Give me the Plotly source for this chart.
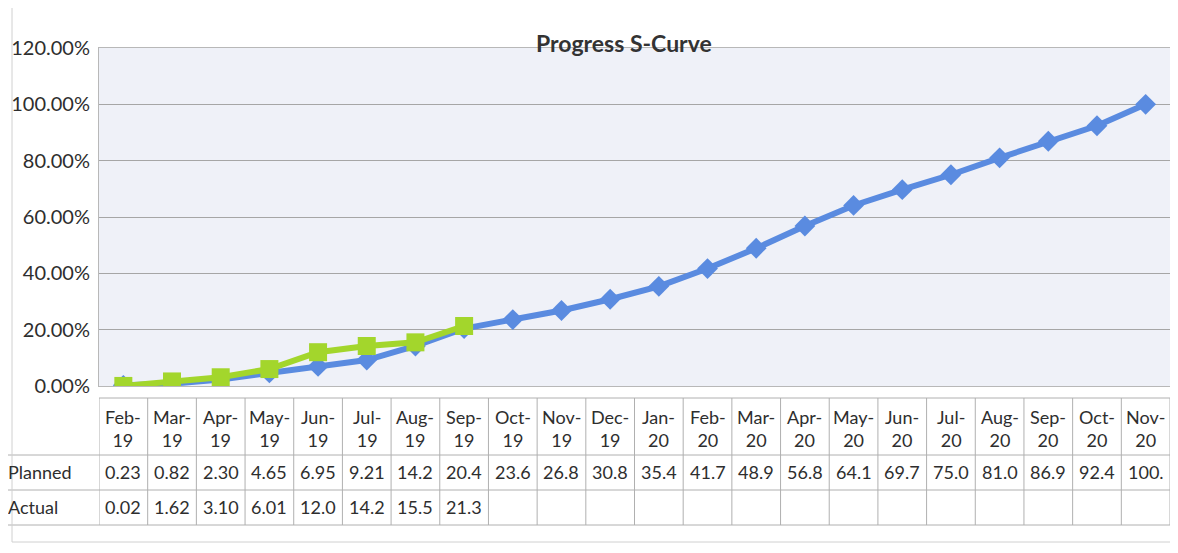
import plotly.graph_objects as go

months = ["Feb-19", "Mar-19", "Apr-19", "May-19", "Jun-19", "Jul-19", "Aug-19", "Sep-19",
          "Oct-19", "Nov-19", "Dec-19", "Jan-20", "Feb-20", "Mar-20", "Apr-20", "May-20",
          "Jun-20", "Jul-20", "Aug-20", "Sep-20", "Oct-20", "Nov-20"]
planned = [0.23, 0.82, 2.30, 4.65, 6.95, 9.21, 14.2, 20.4, 23.6, 26.8, 30.8, 35.4,
           41.7, 48.9, 56.8, 64.1, 69.7, 75.0, 81.0, 86.9, 92.4, 100.0]
actual = [0.02, 1.62, 3.10, 6.01, 12.0, 14.2, 15.5, 21.3]
y_ticks = [0, 20, 40, 60, 80, 100, 120]

OFF = 8  # page body margin
W, H = 1170, 545
ML, MR, MT, MB = 91, 8, 40, 167
PH = H - MT - MB
PW = W - ML - MR


def py(Y):  # Y in page pixels
    return (H - MB - (Y - OFF)) / PH


def px(X):  # X in page pixels
    return (X - OFF - ML) / PW


FONT = "Lato, 'Open Sans', sans-serif"
TXT = "#2e2e2e"
GRID = "#a6a6a6"
TLINE = "#b0b0b0"

fig = go.Figure()
fig.add_trace(go.Scatter(
    x=months, y=planned, mode="lines+markers", name="Planned",
    line=dict(color="#5a8be0", width=6),
    marker=dict(symbol="diamond", size=16, color="#5a8be0"),
))
fig.add_trace(go.Scatter(
    x=months[:len(actual)], y=actual, mode="lines+markers", name="Actual",
    line=dict(color="#a3d62c", width=6),
    marker=dict(symbol="square", size=18, color="#a3d62c"),
))

shapes = []
T_TOP, T_HDR, T_PLN, T_ACT = 398, 455, 490, 525
n = len(months)
shapes.append(dict(type="line", xref="x", yref="paper", x0=-0.5, x1=n - 0.5,
                   y0=py(T_TOP), y1=py(T_TOP), line=dict(color=TLINE, width=1)))
for Y in (T_HDR, T_PLN, T_ACT):
    shapes.append(dict(type="line", xref="paper", yref="paper", x0=px(2), x1=1.0,
                       y0=py(Y), y1=py(Y), line=dict(color=TLINE, width=1)))
for i in range(n + 1):
    shapes.append(dict(type="line", xref="x", yref="paper", x0=i - 0.5, x1=i - 0.5,
                       y0=py(T_TOP), y1=py(T_ACT), line=dict(color=TLINE, width=1)))
shapes.append(dict(type="line", xref="paper", yref="paper", x0=px(12), x1=px(12),
                   y0=py(5), y1=py(542), line=dict(color="#d0d0d0", width=1)))
shapes.append(dict(type="line", xref="paper", yref="paper", x0=px(12), x1=px(1178),
                   y0=py(5), y1=py(5), line=dict(color="#e2e2e2", width=1)))
shapes.append(dict(type="line", xref="paper", yref="paper", x0=px(12), x1=px(1178),
                   y0=py(542), y1=py(542), line=dict(color="#d0d0d0", width=1)))

FS = 18
annotations = []
for i, m in enumerate(months):
    mon, yr = m.split("-")
    annotations.append(dict(x=m, xref="x", y=py((T_TOP + T_HDR) / 2 + 2), yref="paper",
                            text=f"{mon}-<br>{yr}", showarrow=False,
                            font=dict(family=FONT, size=FS, color=TXT),
                            xanchor="center", yanchor="middle"))
    annotations.append(dict(x=m, xref="x", y=py((T_HDR + T_PLN) / 2 - 1), yref="paper",
                            text=f"{planned[i]:.2f}"[:4], showarrow=False,
                            font=dict(family=FONT, size=FS, color=TXT),
                            xanchor="center", yanchor="middle"))
for i, v in enumerate(actual):
    annotations.append(dict(x=months[i], xref="x", y=py((T_PLN + T_ACT) / 2 - 1), yref="paper",
                            text=f"{v:.2f}"[:4], showarrow=False,
                            font=dict(family=FONT, size=FS, color=TXT),
                            xanchor="center", yanchor="middle"))
for lbl, (a, b) in (("Planned", (T_HDR, T_PLN)), ("Actual", (T_PLN, T_ACT))):
    annotations.append(dict(x=px(6), xref="paper", y=py((a + b) / 2 - 1), yref="paper",
                            text=lbl, showarrow=False,
                            font=dict(family=FONT, size=FS, color=TXT),
                            xanchor="left", yanchor="middle"))
annotations.append(dict(x=px(624), xref="paper", y=py(43), yref="paper",
                        text="<b>Progress S-Curve</b>", showarrow=False,
                        font=dict(family=FONT, size=23, color="#333333"),
                        xanchor="center", yanchor="middle"))

fig.update_layout(
    width=W, height=H,
    margin=dict(l=ML, r=MR, t=MT, b=MB, pad=0, autoexpand=False),
    paper_bgcolor="white",
    plot_bgcolor="#eff1f8",
    showlegend=False,
    shapes=shapes,
    annotations=annotations,
    xaxis=dict(type="category", range=[-0.5, n - 0.5], showticklabels=False,
               automargin=False,
               showgrid=False, zeroline=False, showline=True, mirror=True,
               linecolor="#b8b8b8", linewidth=1, fixedrange=True),
    yaxis=dict(range=[0, 120], tickvals=y_ticks, automargin=False,
               ticktext=[f"{v:.2f}%" for v in y_ticks],
               tickfont=dict(family=FONT, size=20, color=TXT),
               showgrid=True, gridcolor=GRID, gridwidth=1, zeroline=False,
               showline=True, mirror=True, linecolor="#b8b8b8", linewidth=1,
               ticks="", ticklabelstandoff=4, fixedrange=True),
)

fig.write_html("out.html")
